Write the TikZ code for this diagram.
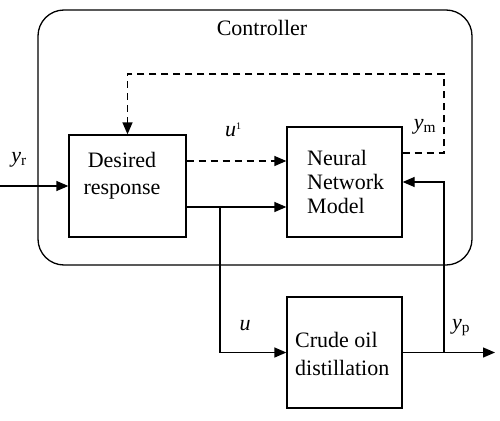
\documentclass[tikz,border=0pt]{standalone}
\usepackage{fontspec}
\setmainfont{Liberation Serif}
\usetikzlibrary{arrows.meta}
\begin{document}
\begin{tikzpicture}[x=1pt,y=-1pt,
  blk/.style={draw,line width=1.3pt,inner sep=0pt},
  conn/.style={line width=1.3pt},
  arr/.style={conn,-{Triangle[length=12pt,width=10pt]}},
  dsh/.style={dash pattern=on 7pt off 5pt},
  lbl/.style={font=\fontsize{22}{24}\selectfont,inner sep=0pt}]
\useasboundingbox (0,0) rectangle (500,420);
\draw[line width=1.3pt,rounded corners=26pt] (38,10) rectangle (472,265);
\node[lbl] (ctl) at (262,28) {Controller};
\node[blk,minimum width=117pt,minimum height=102pt] (DR) at (127.5,186) {};
\node[lbl,align=center,font=\fontsize{22}{27}\selectfont] (DRt) at (122,176) {Desired\\response};
\node[blk,minimum width=115pt,minimum height=110pt] (NN) at (344.5,182) {};
\node[lbl,align=left,anchor=west,font=\fontsize{22}{24}\selectfont] (NNt) at (307,182) {Neural\\Network\\Model};
\node[blk,minimum width=115pt,minimum height=111pt] (CO) at (344.5,352.5) {};
\node[lbl,align=left,anchor=west,font=\fontsize{22}{28}\selectfont] (COt) at (295,354) {Crude oil\\distillation};
\coordinate (in) at (0,186);
\coordinate (out) at (495,352.5);
\coordinate (jb) at (220,207);
\coordinate (jo) at (444,352.5);
\coordinate (tr) at (444,74);
\coordinate (tl) at (127.5,74);
\node[lbl] (yr) at (19,160) {\textit{y}\textsubscript{r}};
\node[lbl] (u1) at (233,130) {\textit{u}\raisebox{7pt}{\fontsize{10}{10}\selectfont 1}};
\node[lbl] (ym) at (425,127) {\textit{y}\textsubscript{m}};
\node[lbl] (uu) at (245,326) {\textit{u}};
\node[lbl] (yp) at (461,328) {\textit{y}\textsubscript{p}};
\draw[arr] (in) -- (DR.west);
\draw[arr,dsh] ([yshift=25pt]DR.east) -- ([yshift=25pt]DR.east -| NN.west);
\draw[arr] (jb -| DR.east) -- (jb -| NN.west);
\draw[arr] (jb) |- (CO.west);
\draw[arr] (CO.east) -- (out);
\draw[arr] (jo) |- (NN.east);
\draw[arr,dsh] ([yshift=29pt]NN.east) -| (tr) -- (tl) -- (DR.north);
\end{tikzpicture}
\end{document}
